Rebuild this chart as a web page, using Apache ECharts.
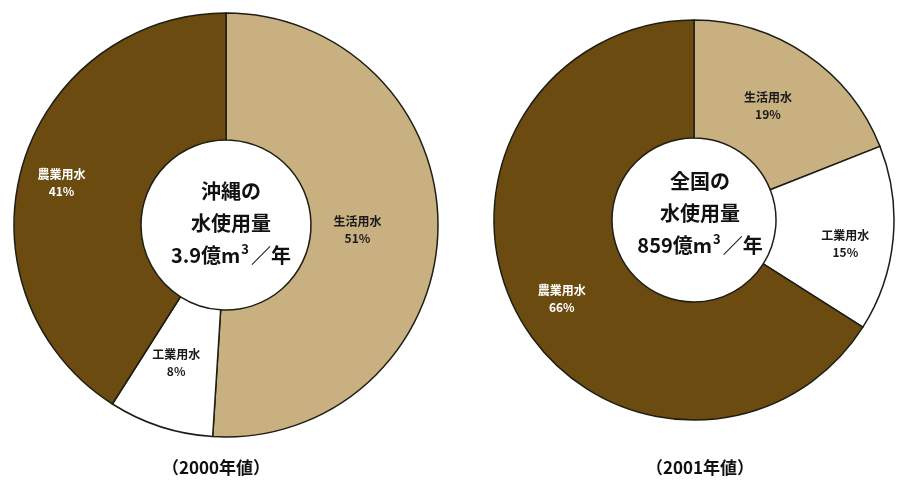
<!DOCTYPE html>
<html>
<head>
<meta charset="utf-8">
<script src="https://cdn.jsdelivr.net/npm/echarts@6/dist/echarts.min.js"></script>
<style>
  html, body { margin: 0; padding: 0; background: #fff; }
  #chart { width: 897px; height: 484px; }
</style>
</head>
<body>
<div id="chart"></div>
<script>
// Water use by purpose, Okinawa (2000) and all of Japan (2001)
const categories = ['生活用水', '工業用水', '農業用水'];
const okinawaShares = [51, 8, 41];
const nationalShares = [19, 15, 66];
const okinawaCenter = ['沖縄の', '水使用量', '3.9億m', '／年'];
const nationalCenter = ['全国の', '水使用量', '859億m', '／年'];
const captions = ['（2000年値）', '（2001年値）'];

const FONT = '"Noto Sans CJK JP", "Noto Sans", sans-serif';
const sliceColors = ['#c8b081', '#ffffff', '#6c4b10'];
const labelColors = ['#1a1a1a', '#1a1a1a', '#ffffff'];

function buildData(values, offsets) {
  return categories.map((name, i) => ({
    name: name,
    value: values[i],
    itemStyle: { color: sliceColors[i] },
    label: Object.assign({ color: labelColors[i] }, offsets && offsets[i] ? { offset: offsets[i] } : {})
  }));
}

function donut(center, radius, values, offsets) {
  return {
    type: 'pie',
    center: center,
    radius: radius,
    startAngle: 90,
    clockwise: true,
    silent: true,
    animation: false,
    itemStyle: { borderColor: '#1e1e14', borderWidth: 1.5 },
    label: {
      position: 'inside',
      formatter: '{b}\n{c}%',
      fontFamily: FONT,
      fontWeight: 'bold',
      fontSize: 12,
      lineHeight: 17,
      overflow: 'none'
    },
    labelLine: { show: false },
    data: buildData(values, offsets)
  };
}

function centerText(lines, left, top) {
  return {
    text: '{a|' + lines[0] + '}\n{a|' + lines[1] + '}\n{a|' + lines[2] + '}{s|3}{a|' + lines[3] + '}',
    left: left,
    top: top,
    textAlign: 'center',
    textStyle: {
      rich: {
        a: { fontFamily: FONT, fontWeight: 'bold', fontSize: 20, color: '#111', lineHeight: 32 },
        s: { fontFamily: FONT, fontWeight: 'bold', fontSize: 13, color: '#111', padding: [0, 2, 12, 1] }
      }
    }
  };
}

const chart = echarts.init(document.getElementById('chart'));
chart.setOption({
  backgroundColor: '#ffffff',
  title: [
    centerText(okinawaCenter, 226, 170),
    centerText(nationalCenter, 695, 160),
    { text: captions[0], left: 211, top: 454, textAlign: 'center',
      textStyle: { fontFamily: FONT, fontWeight: 'bold', fontSize: 17, color: '#111' } },
    { text: captions[1], left: 695, top: 454, textAlign: 'center',
      textStyle: { fontFamily: FONT, fontWeight: 'bold', fontSize: 17, color: '#111' } }
  ],
  series: [
    donut([226, 225], [85, 212], okinawaShares, [[-20, 0], [-3, -6], [-19, 0]]),
    donut([694, 220], [82, 200], nationalShares, [[-7, 5], [8, 10], [-6, 10]])
  ]
});
</script>
</body>
</html>
